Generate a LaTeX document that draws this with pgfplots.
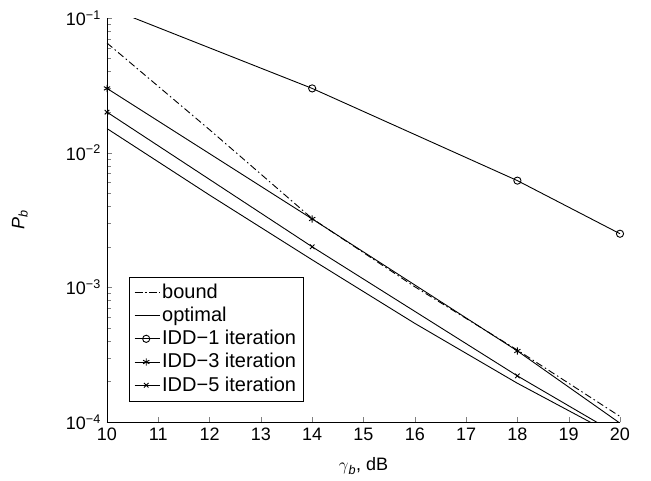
\documentclass[border=0pt]{standalone}
\usepackage{fontspec}
\setmainfont{Liberation Sans}
\usepackage{pgfplots}
\pgfplotsset{compat=1.18}

\begin{document}
\fontsize{18}{21}\selectfont
\begin{tikzpicture}
\begin{axis}[
  scale only axis, width=513pt, height=404pt,
  ymode=log, xmin=10, xmax=20, ymin=1e-4, ymax=1e-1,
  axis lines*=left, tick align=inside,
  major tick length=5pt, minor tick length=4pt,
  xtick={10,11,...,20},
  ytick={1e-4,1e-3,1e-2,1e-1},
  yticklabels={10\textsuperscript{−4},10\textsuperscript{−3},10\textsuperscript{−2},10\textsuperscript{−1}},
  /pgf/number format/assume math mode=true,
  tick label style={font=\fontsize{18}{21}\selectfont},
  xlabel={$\gamma$\textsubscript{\textit{b}}, dB},
  ylabel={\textit{P}\textsubscript{\textit{b}}},
  xlabel style={at={(axis description cs:0.5,-0.109)}, anchor=center},
  ylabel style={at={(axis description cs:-0.17,0.5)}, anchor=center},
  label style={font=\fontsize{18}{21}\selectfont},
  every axis plot/.append style={line width=0.9pt, black},
  legend image code/.code={
    \path (0pt,0pt) -- (25pt,0pt);
    \draw[#1, mark=none] (1pt,0pt) -- (22pt,0pt);
    \draw[#1, only marks] plot coordinates {(11.5pt,0pt)};
  },
  legend style={at={(axis description cs:0.043,0.052)}, anchor=south west,
    draw=black, fill=white, font=\fontsize{20}{23}\selectfont,
    row sep=2pt, inner xsep=5pt, inner ysep=5pt},
  legend cell align=left,
]
% bound
\addplot[dash pattern=on 7pt off 3pt on 1.5pt off 3pt] coordinates {
  (10,0.0652) (12,0.0148) (14,3.24e-3) (16,1.01e-3) (18,3.42e-4) (20,1.1e-4)};
\addlegendentry{bound}
% optimal
\addplot[solid] coordinates {
  (10,0.0151) (12,4.84e-3) (14,1.6e-3) (16,5.4e-4) (18,1.94e-4) (20,7.6e-5)};
\addlegendentry{optimal}
% IDD-1 (first segment leaves the top of the axes)
\addplot[solid, forget plot] coordinates {(10,0.12) (14,0.030)};
\addplot[solid, mark=o, mark size=3.6pt] coordinates {
  (14,0.030) (18,6.2e-3) (20,2.5e-3)};
\addlegendentry{IDD−1 iteration}
% IDD-3
\addplot[solid, mark=asterisk, mark size=3.6pt, mark indices={1,2,3}] coordinates {
  (10,0.030) (14,3.22e-3) (18,3.37e-4) (20,9.8e-5)};
\addlegendentry{IDD−3 iteration}
% IDD-5
\addplot[solid, mark=x, mark size=3.2pt, mark indices={1,2,3}] coordinates {
  (10,0.020) (14,2.0e-3) (18,2.2e-4) (20,7.9e-5)};
\addlegendentry{IDD−5 iteration}
\end{axis}
\path ([shift={(-107pt,-57pt)}]current axis.south west) rectangle ([shift={(31pt,18pt)}]current axis.north east);
\end{tikzpicture}
\end{document}
